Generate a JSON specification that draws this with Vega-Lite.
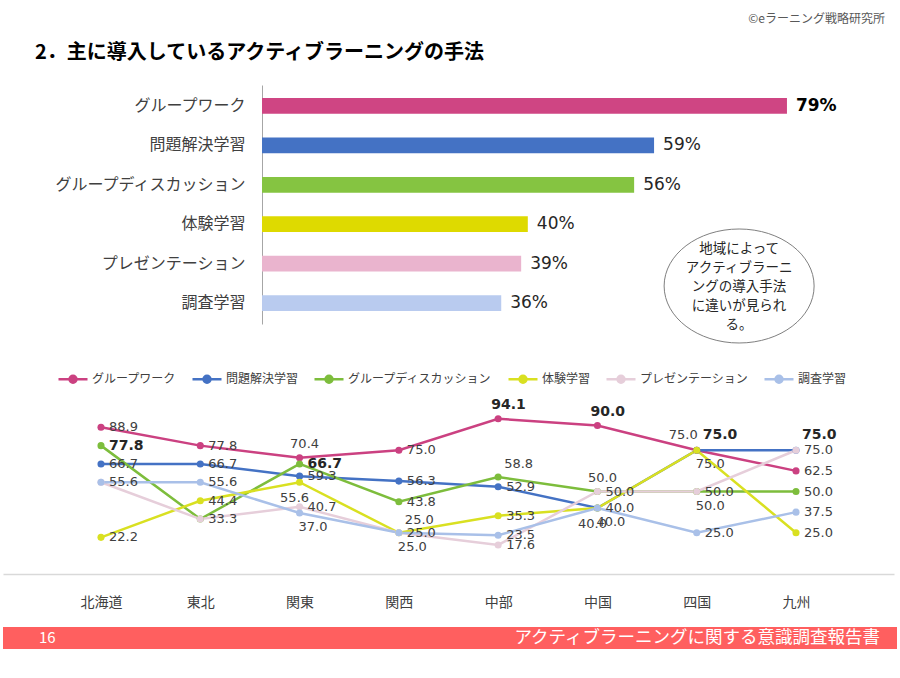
{
  "$schema": "https://vega.github.io/schema/vega-lite/v6.json",
  "background": "white",
  "padding": {"left": 3, "top": 13, "right": 3, "bottom": 0},
  "config": {
    "font": "Noto Sans CJK JP",
    "view": {"stroke": null},
    "axis": {"labelFont": "Noto Sans CJK JP"},
    "legend": {"labelFont": "Noto Sans CJK JP"},
    "title": {"font": "Noto Sans CJK JP"}
  },
  "title": {"text": "©eラーニング戦略研究所", "anchor": "end", "frame": "bounds", "fontSize": 12, "fontWeight": "normal", "color": "#595959", "dx": -12, "offset": 17},
  "datasets": {
    "bars": [
      {"method": "グループワーク", "pct": 0.79},
      {"method": "問題解決学習", "pct": 0.59},
      {"method": "グループディスカッション", "pct": 0.56},
      {"method": "体験学習", "pct": 0.40},
      {"method": "プレゼンテーション", "pct": 0.39},
      {"method": "調査学習", "pct": 0.36}
    ],
    "regions": [
      {"region": "北海道", "series": "グループワーク", "value": 88.9},
      {"region": "東北", "series": "グループワーク", "value": 77.8},
      {"region": "関東", "series": "グループワーク", "value": 70.4},
      {"region": "関西", "series": "グループワーク", "value": 75.0},
      {"region": "中部", "series": "グループワーク", "value": 94.1},
      {"region": "中国", "series": "グループワーク", "value": 90.0},
      {"region": "四国", "series": "グループワーク", "value": 75.0},
      {"region": "九州", "series": "グループワーク", "value": 62.5},
      {"region": "北海道", "series": "問題解決学習", "value": 66.7},
      {"region": "東北", "series": "問題解決学習", "value": 66.7},
      {"region": "関東", "series": "問題解決学習", "value": 59.3},
      {"region": "関西", "series": "問題解決学習", "value": 56.3},
      {"region": "中部", "series": "問題解決学習", "value": 52.9},
      {"region": "中国", "series": "問題解決学習", "value": 40.0},
      {"region": "四国", "series": "問題解決学習", "value": 75.0},
      {"region": "九州", "series": "問題解決学習", "value": 75.0},
      {"region": "北海道", "series": "グループディスカッション", "value": 77.8},
      {"region": "東北", "series": "グループディスカッション", "value": 33.3},
      {"region": "関東", "series": "グループディスカッション", "value": 66.7},
      {"region": "関西", "series": "グループディスカッション", "value": 43.8},
      {"region": "中部", "series": "グループディスカッション", "value": 58.8},
      {"region": "中国", "series": "グループディスカッション", "value": 50.0},
      {"region": "四国", "series": "グループディスカッション", "value": 50.0},
      {"region": "九州", "series": "グループディスカッション", "value": 50.0},
      {"region": "北海道", "series": "体験学習", "value": 22.2},
      {"region": "東北", "series": "体験学習", "value": 44.4},
      {"region": "関東", "series": "体験学習", "value": 55.6},
      {"region": "関西", "series": "体験学習", "value": 25.0},
      {"region": "中部", "series": "体験学習", "value": 35.3},
      {"region": "中国", "series": "体験学習", "value": 40.0},
      {"region": "四国", "series": "体験学習", "value": 75.0},
      {"region": "九州", "series": "体験学習", "value": 25.0},
      {"region": "北海道", "series": "プレゼンテーション", "value": 55.6},
      {"region": "東北", "series": "プレゼンテーション", "value": 33.3},
      {"region": "関東", "series": "プレゼンテーション", "value": 40.7},
      {"region": "関西", "series": "プレゼンテーション", "value": 25.0},
      {"region": "中部", "series": "プレゼンテーション", "value": 17.6},
      {"region": "中国", "series": "プレゼンテーション", "value": 50.0},
      {"region": "四国", "series": "プレゼンテーション", "value": 50.0},
      {"region": "九州", "series": "プレゼンテーション", "value": 75.0},
      {"region": "北海道", "series": "調査学習", "value": 55.6},
      {"region": "東北", "series": "調査学習", "value": 55.6},
      {"region": "関東", "series": "調査学習", "value": 37.0},
      {"region": "関西", "series": "調査学習", "value": 25.0},
      {"region": "中部", "series": "調査学習", "value": 23.5},
      {"region": "中国", "series": "調査学習", "value": 40.0},
      {"region": "四国", "series": "調査学習", "value": 25.0},
      {"region": "九州", "series": "調査学習", "value": 37.5}
    ]
  },
  "resolve": {"legend": {"color": "independent"}},
  "spacing": 18,
  "vconcat": [
    {
      "width": 894,
      "height": 239,
      "title": {"text": "2．主に導入しているアクティブラーニングの手法", "anchor": "start", "frame": "group", "dx": 32, "fontSize": 20, "fontWeight": "bold", "color": "#000000", "offset": 22},
      "layer": [
        {
          "data": {"name": "bars"},
          "encoding": {
            "y": {"field": "method", "type": "nominal", "sort": null, "scale": {"paddingInner": 0.6, "paddingOuter": 0.33},
              "axis": {"title": null, "ticks": false, "domain": true, "domainColor": "#A6A6A6", "domainWidth": 1, "labelFontSize": 16, "labelColor": "#404040", "labelPadding": 17, "offset": -259, "labelLimit": 250}},
            "x": {"field": "pct", "type": "quantitative", "scale": {"domain": [-0.3898, 0.9556], "nice": false, "zero": false}, "axis": null}
          },
          "layer": [
            {
              "mark": {"type": "bar"},
              "encoding": {
                "fill": {"field": "method", "type": "nominal", "legend": null,
                  "scale": {"domain": ["グループワーク", "問題解決学習", "グループディスカッション", "体験学習", "プレゼンテーション", "調査学習"],
                    "range": ["#CF4583", "#4472C4", "#85C441", "#DEDA00", "#EAB4CE", "#B9CBEF"]}}
              }
            },
            {
              "transform": [{"filter": "datum.method !== 'グループワーク'"}],
              "mark": {"type": "text", "align": "left", "baseline": "middle", "dx": 9, "font": "DejaVu Sans", "fontSize": 17, "color": "#262626"},
              "encoding": {"text": {"field": "pct", "type": "quantitative", "format": ".0%"}}
            },
            {
              "transform": [{"filter": "datum.method === 'グループワーク'"}],
              "mark": {"type": "text", "align": "left", "baseline": "middle", "dx": 9, "font": "DejaVu Sans", "fontSize": 17, "fontWeight": "bold", "color": "#000000"},
              "encoding": {"text": {"field": "pct", "type": "quantitative", "format": ".0%"}}
            }
          ]
        },
        {
          "data": {"values": [{"note": "地域によって\nアクティブラーニ\nングの導入手法\nに違いが見られ\nる。"}]},
          "encoding": {
            "x": {"datum": 0.718, "type": "quantitative"},
            "y": {"datum": 0.159, "type": "quantitative", "scale": {"domain": [0, 1]}, "axis": null}
          },
          "layer": [
            {
              "mark": {"type": "point", "shape": "M1,0C1,0.4197,0.5523,0.76,0,0.76C-0.5523,0.76,-1,0.4197,-1,0C-1,-0.4197,-0.5523,-0.76,0,-0.76C0.5523,-0.76,1,-0.4197,1,0Z", "size": 22500, "filled": true, "fill": "white", "stroke": "#7F7F7F", "strokeWidth": 1, "opacity": 1}
            },
            {
              "mark": {"type": "text", "lineBreak": "\n", "fontSize": 13.5, "lineHeight": 19, "color": "#262626", "align": "center", "baseline": "middle", "dy": -37},
              "encoding": {"text": {"field": "note"}}
            }
          ]
        }
      ],
      "resolve": {"scale": {"y": "independent"}, "axis": {"y": "independent"}}
    },
    {
      "width": 891,
      "height": 165,
      "data": {"name": "regions"},
      "encoding": {
        "x": {"field": "region", "type": "nominal", "sort": ["北海道", "東北", "関東", "関西", "中部", "中国", "四国", "九州"],
          "scale": {"type": "point", "padding": 0.987},
          "axis": {"title": null, "ticks": false, "domainColor": "#D9D9D9", "domainWidth": 1.5, "labelFontSize": 14, "labelColor": "#404040", "labelPadding": 21, "labelAngle": 0}},
        "y": {"field": "value", "type": "quantitative", "scale": {"domain": [0, 100]}, "axis": null}
      },
      "layer": [
        {
          "mark": {"type": "line", "strokeWidth": 2.5},
          "encoding": {
            "color": {"field": "series", "type": "nominal",
              "scale": {"domain": ["グループワーク", "問題解決学習", "グループディスカッション", "体験学習", "プレゼンテーション", "調査学習"],
                "range": ["#CB4181", "#4472C4", "#7DBD3C", "#D9E021", "#E6CEDA", "#A9C0E8"]},
              "legend": {"orient": "none", "legendX": 54, "legendY": -46, "direction": "horizontal", "title": null, "labelFontSize": 12, "labelColor": "#404040", "labelOffset": 3, "columnPadding": 10, "padding": 0,
                "symbolType": "M-1,0H1M-0.24,0C-0.24,0.1325,-0.1325,0.24,0,0.24C0.1325,0.24,0.24,0.1325,0.24,0C0.24,-0.1325,0.1325,-0.24,0,-0.24C-0.1325,-0.24,-0.24,-0.1325,-0.24,0Z",
                "symbolSize": 841, "symbolStrokeWidth": 2.5, "symbolOpacity": 1,
                "encode": {"symbols": {"update": {"fill": {"scale": "color", "field": "value"}, "stroke": {"scale": "color", "field": "value"}}}}}
            }
          }
        },
        {
          "mark": {"type": "point", "filled": true, "size": 50, "opacity": 1},
          "encoding": {"color": {"field": "series", "type": "nominal"}}
        },
        {
          "transform": [{"filter": "indexof(['北海道プレゼンテーション','東北プレゼンテーション','関東グループワーク','中国プレゼンテーション','中部グループディスカッション','関西体験学習','四国グループワーク','関東調査学習','関西プレゼンテーション','四国グループディスカッション','四国体験学習','中国問題解決学習','関東体験学習','中国体験学習','北海道グループディスカッション','関東グループディスカッション','中部グループワーク','中国グループワーク','四国問題解決学習','九州問題解決学習'], datum.region + datum.series) < 0"}],
          "mark": {"type": "text", "align": "left", "baseline": "middle", "dx": 8, "font": "DejaVu Sans", "fontSize": 13, "color": "#404040"},
          "encoding": {"text": {"field": "value", "type": "quantitative", "format": ".1f"}}
        },
        {
          "transform": [{"filter": "indexof(['関東グループワーク','中国プレゼンテーション'], datum.region + datum.series) >= 0"}],
          "mark": {"type": "text", "align": "center", "baseline": "middle", "dx": 5, "dy": -14, "font": "DejaVu Sans", "fontSize": 13, "color": "#404040"},
          "encoding": {"text": {"field": "value", "type": "quantitative", "format": ".1f"}}
        },
        {
          "transform": [{"filter": "indexof(['中部グループディスカッション','関西体験学習'], datum.region + datum.series) >= 0"}],
          "mark": {"type": "text", "align": "left", "baseline": "middle", "dx": 6, "dy": -13, "font": "DejaVu Sans", "fontSize": 13, "color": "#404040"},
          "encoding": {"text": {"field": "value", "type": "quantitative", "format": ".1f"}}
        },
        {
          "transform": [{"filter": "indexof(['四国グループワーク'], datum.region + datum.series) >= 0"}],
          "mark": {"type": "text", "align": "right", "baseline": "middle", "dx": 1, "dy": -15, "font": "DejaVu Sans", "fontSize": 13, "color": "#404040"},
          "encoding": {"text": {"field": "value", "type": "quantitative", "format": ".1f"}}
        },
        {
          "transform": [{"filter": "indexof(['関東調査学習','関西プレゼンテーション','四国グループディスカッション','四国体験学習','中国問題解決学習'], datum.region + datum.series) >= 0"}],
          "mark": {"type": "text", "align": "left", "baseline": "middle", "dx": -1, "dy": 14, "font": "DejaVu Sans", "fontSize": 13, "color": "#404040"},
          "encoding": {"text": {"field": "value", "type": "quantitative", "format": ".1f"}}
        },
        {
          "transform": [{"filter": "indexof(['関東体験学習','中国体験学習'], datum.region + datum.series) >= 0"}],
          "mark": {"type": "text", "align": "center", "baseline": "middle", "dx": -5, "dy": 16, "font": "DejaVu Sans", "fontSize": 13, "color": "#404040"},
          "encoding": {"text": {"field": "value", "type": "quantitative", "format": ".1f"}}
        },
        {
          "transform": [{"filter": "indexof(['北海道グループディスカッション','関東グループディスカッション'], datum.region + datum.series) >= 0"}],
          "mark": {"type": "text", "align": "left", "baseline": "middle", "dx": 8, "font": "DejaVu Sans", "fontSize": 14, "fontWeight": "bold", "color": "#262626"},
          "encoding": {"text": {"field": "value", "type": "quantitative", "format": ".1f"}}
        },
        {
          "transform": [{"filter": "indexof(['中部グループワーク','中国グループワーク'], datum.region + datum.series) >= 0"}],
          "mark": {"type": "text", "align": "left", "baseline": "middle", "dx": -7, "dy": -14, "font": "DejaVu Sans", "fontSize": 14, "fontWeight": "bold", "color": "#262626"},
          "encoding": {"text": {"field": "value", "type": "quantitative", "format": ".1f"}}
        },
        {
          "transform": [{"filter": "indexof(['四国問題解決学習','九州問題解決学習'], datum.region + datum.series) >= 0"}],
          "mark": {"type": "text", "align": "left", "baseline": "middle", "dx": 6, "dy": -15, "font": "DejaVu Sans", "fontSize": 14, "fontWeight": "bold", "color": "#262626"},
          "encoding": {"text": {"field": "value", "type": "quantitative", "format": ".1f"}}
        }
      ]
    },
    {
      "width": 894,
      "height": 22,
      "view": {"fill": "#FF5F5F", "stroke": null},
      "data": {"values": [{"page": "16", "report": "アクティブラーニングに関する意識調査報告書"}]},
      "encoding": {
        "y": {"datum": 0.5, "type": "quantitative", "scale": {"domain": [0, 1]}, "axis": null}
      },
      "layer": [
        {
          "mark": {"type": "text", "align": "left", "baseline": "middle", "dx": 36, "fontSize": 15, "color": "white"},
          "encoding": {"x": {"datum": 0, "type": "quantitative", "scale": {"domain": [0, 1]}, "axis": null}, "text": {"field": "page"}}
        },
        {
          "mark": {"type": "text", "align": "right", "baseline": "middle", "dx": -17, "fontSize": 17.5, "color": "white"},
          "encoding": {"x": {"datum": 1, "type": "quantitative"}, "text": {"field": "report"}}
        }
      ]
    }
  ]
}
